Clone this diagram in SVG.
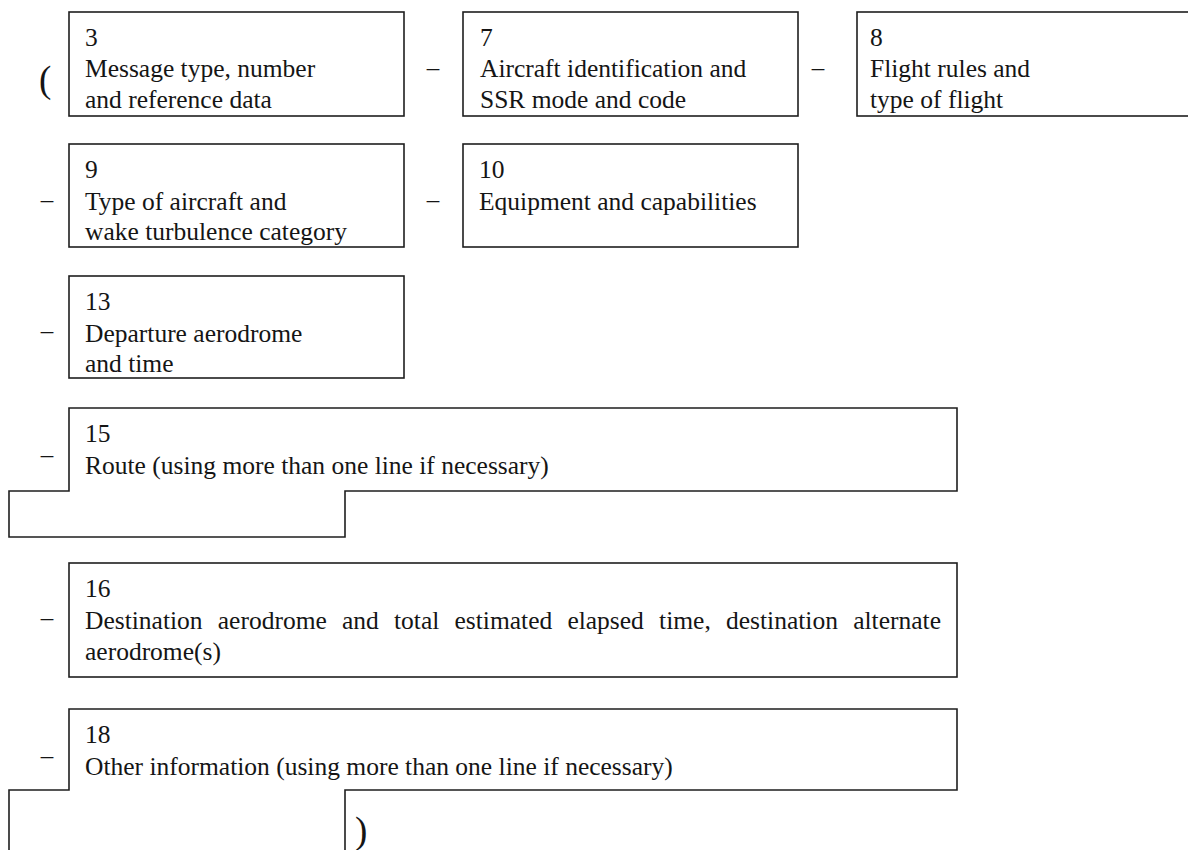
<svg xmlns="http://www.w3.org/2000/svg" width="1188" height="850" viewBox="0 0 1188 850">
<style>
  .box { fill: none; stroke: #1e1e1e; stroke-width: 1.6; }
  .t { font-family: "Liberation Serif", "Times New Roman", serif; font-size: 25.5px; fill: #151515; }
  .d { font-family: "Liberation Serif", "Times New Roman", serif; font-size: 25px; fill: #151515; text-anchor: middle; }
  .p { font-family: "Liberation Serif", "Times New Roman", serif; font-size: 37px; fill: #151515; }
</style>
<rect width="1188" height="850" fill="#ffffff"/>

<g id="connectors">
  <text class="p" x="39" y="92">(</text>
  <text class="d" x="433" y="76">–</text>
  <text class="d" x="818" y="76">–</text>
  <text class="d" x="47" y="208">–</text>
  <text class="d" x="433" y="208">–</text>
  <text class="d" x="47" y="339">–</text>
  <text class="d" x="47" y="463">–</text>
  <text class="d" x="47" y="626">–</text>
  <text class="d" x="47" y="764">–</text>
  <text class="p" x="355" y="843">)</text>
</g>

<g id="field3">
  <rect class="box" x="69" y="12" width="335" height="104"/>
  <text class="t" x="85" y="46">3</text>
  <text class="t" x="85" y="77">Message type, number</text>
  <text class="t" x="85" y="108">and reference data</text>
</g>

<g id="field7">
  <rect class="box" x="463" y="12" width="335" height="104"/>
  <text class="t" x="480" y="46">7</text>
  <text class="t" x="480" y="77">Aircraft identification and</text>
  <text class="t" x="480" y="108">SSR mode and code</text>
</g>

<g id="field8">
  <rect class="box" x="857" y="12" width="340" height="104"/>
  <text class="t" x="870" y="46">8</text>
  <text class="t" x="870" y="77">Flight rules and</text>
  <text class="t" x="870" y="108">type of flight</text>
</g>

<g id="field9">
  <rect class="box" x="69" y="144" width="335" height="103"/>
  <text class="t" x="85" y="178">9</text>
  <text class="t" x="85" y="210">Type of aircraft and</text>
  <text class="t" x="85" y="240">wake turbulence category</text>
</g>

<g id="field10">
  <rect class="box" x="463" y="144" width="335" height="103"/>
  <text class="t" x="479" y="178">10</text>
  <text class="t" x="479" y="210">Equipment and capabilities</text>
</g>

<g id="field13">
  <rect class="box" x="69" y="276" width="335" height="102"/>
  <text class="t" x="85" y="310">13</text>
  <text class="t" x="85" y="342">Departure aerodrome</text>
  <text class="t" x="85" y="372">and time</text>
</g>

<g id="field15">
  <path class="box" d="M69,408 H957 V491 H345 V537 H9 V491 H69 Z"/>
  <text class="t" x="85" y="442">15</text>
  <text class="t" x="85" y="474">Route (using more than one line if necessary)</text>
</g>

<g id="field16">
  <rect class="box" x="69" y="563" width="888" height="114"/>
  <text class="t" x="85" y="597">16</text>
  <text class="t" y="629"><tspan x="85">Destination</tspan><tspan x="217.8">aerodrome</tspan><tspan x="342">and</tspan><tspan x="394">total</tspan><tspan x="454.5">estimated</tspan><tspan x="567.4">elapsed</tspan><tspan x="659.1">time,</tspan><tspan x="726">destination</tspan><tspan x="941" text-anchor="end">alternate</tspan></text>
  <text class="t" x="85" y="660">aerodrome(s)</text>
</g>

<g id="field18">
  <path class="box" d="M9,860 V790 H69 V709 H957 V790 H345 V860"/>
  <text class="t" x="85" y="743">18</text>
  <text class="t" x="85" y="775">Other information (using more than one line if necessary)</text>
</g>
</svg>
